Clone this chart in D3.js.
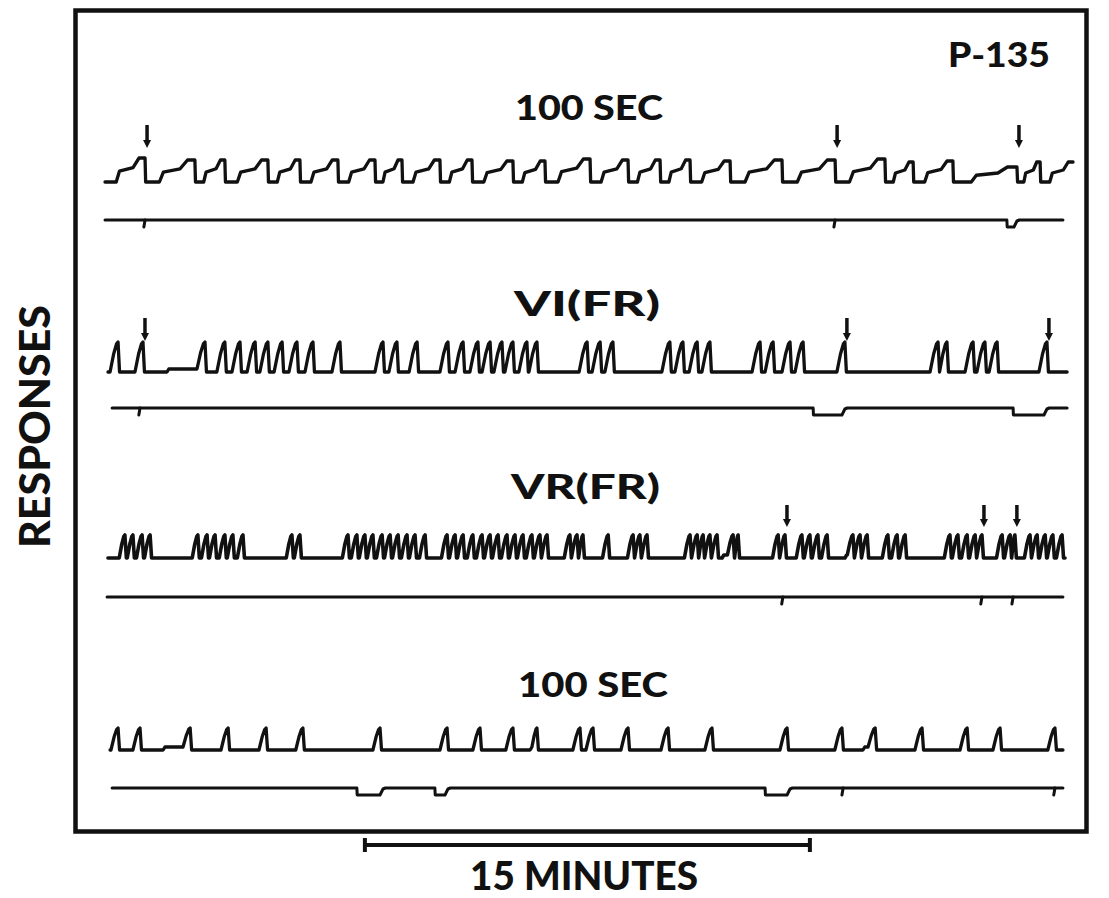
<!DOCTYPE html>
<html>
<head>
<meta charset="utf-8">
<script src="https://cdn.jsdelivr.net/npm/d3@7"></script>
<style>
body { margin: 0; background: #fff; }
text { font-family: Lato, "Open Sans", sans-serif; font-weight: 900; fill: #111; }
</style>
</head>
<body>
<script>
// all times are minutes from the start of the record
// record 1: 100 SEC (pen resets)
var rec1Resets = [1.35, 3.03, 4.04, 5.49, 6.57, 7.85, 9.10, 10.01, 11.29, 12.37, 13.75, 14.83,
                  16.35, 17.63, 18.71, 19.72, 21.07, 22.82, 24.61, 26.29, 27.24, 28.58, 30.74, 31.52];
var rec1Heights = [24, 22, 22, 22, 22, 22, 22, 22, 22, 22, 21, 21,
                   23, 22, 22, 22, 21, 22, 22, 23, 20, 21, 15, 20];
var rec1End = [32.63, 20];
var rec1Arrows = [1.35, 24.61, 30.74];
var rec1Ticks = [1.35, 24.61];
var rec1Dips = [[30.40, 30.74]];

// record 2: VI(FR)
var rec2Peaks = [0.44, 1.28, 3.37, 4.04, 4.55, 5.06, 5.49, 5.97, 6.47, 7.01, 7.92,
                 9.37, 9.84, 10.52, 11.56, 12.07, 12.57, 12.98, 13.38, 13.75, 14.22, 14.56,
                 16.25, 16.69, 17.12, 19.04, 19.48, 19.96, 20.39, 22.08, 22.52, 23.09, 23.53,
                 24.94, 28.08, 28.38, 29.26, 29.66, 30.07, 31.75];
var rec2Steps = [2.09];
var rec2End = 32.43;
var rec2Arrows = [1.28, 24.94, 31.75];
var rec2Ticks = [1.18];
var rec2Dips = [[23.87, 24.94], [30.61, 31.75]];

// record 3: VR(FR)
var rec3Peaks = [0.67, 0.94, 1.25, 1.52, 3.13, 3.44, 3.71, 4.04, 4.31, 4.65, 6.30, 6.57,
                 8.19, 8.49, 8.76, 9.03, 9.34, 9.61, 9.88, 10.18, 10.45, 10.79,
                 11.53, 11.80, 12.07, 12.40, 12.71, 12.98, 13.25, 13.55, 13.82, 14.09, 14.39, 14.66, 14.90,
                 15.67, 15.91, 16.11, 16.96, 17.80, 18.03, 18.27,
                 19.72, 19.96, 20.16, 20.39, 20.63, 21.17, 21.34, 22.69, 22.92,
                 23.49, 23.76, 24.03, 24.34, 25.21, 25.45, 25.69, 26.39, 26.70, 26.97,
                 28.48, 28.75, 29.06, 29.33, 29.56, 30.24, 30.51, 30.67,
                 31.18, 31.42, 31.69, 31.95, 32.26];
var rec3Steps = [20.80, 24.94];
var rec3End = 32.36;
var rec3Arrows = [22.92, 29.56, 30.67];
var rec3Ticks = [22.85, 29.56, 30.61];
var rec3Dips = [];

// record 4: 100 SEC
var rec4Peaks = [0.44, 1.18, 2.87, 4.15, 5.43, 6.67, 9.27, 11.53, 12.64, 13.75, 14.56,
                 16.01, 16.45, 17.63, 18.98, 20.46, 22.99, 24.84, 25.96, 27.54, 29.06, 30.17, 32.02];
var rec4Steps = [1.96, 14.33, 25.55];
var rec4End = 32.29;
var rec4Ticks = [24.88, 32.02];
var rec4Dips = [[8.49, 9.37], [11.12, 11.56], [22.25, 23.09]];

var titles = ["100 SEC", "VI(FR)", "VR(FR)", "100 SEC"];
var scaleBar = [8.76, 23.76]; // 15 minutes

var width = 1109, height = 898;
var svg = d3.select("body").append("svg").attr("width", width).attr("height", height);

var x = d3.scaleLinear().domain([0, 33]).range([105, 105 + 33 * 29.667]);
var line = d3.line();

// frame
svg.append("rect").attr("x", 75.5).attr("y", 10.5).attr("width", 1011).attr("height", 821)
  .attr("fill", "none").attr("stroke", "#111").attr("stroke-width", 4.5);

function yScale(base) {
  return d3.scaleLinear().domain([0, 30]).range([base, base - 30]);
}

function drawPath(pts, y, sw) {
  svg.append("path")
    .attr("d", line(pts.map(function(p) { return [x(p[0]), y(p[1])]; })))
    .attr("fill", "none").attr("stroke", "#111").attr("stroke-width", sw || 3.3)
    .attr("stroke-linejoin", "round").attr("stroke-linecap", "round");
}

// cumulative record with fixed-ratio runs (rise then reset)
function runPoints(peaks, steps, h, rise, start, end) {
  var ev = peaks.map(function(t) { return {t: t, k: "p"}; })
    .concat(steps.map(function(t) { return {t: t, k: "s"}; }))
    .sort(function(a, b) { return a.t - b.t; });
  var pts = [[start, 0]], cur = start, lvl = 0;
  ev.forEach(function(e) {
    if (e.k === "s") {
      pts.push([e.t, lvl]); lvl += 3; pts.push([e.t + 0.06, lvl]); cur = e.t + 0.06;
    } else {
      var s = Math.max(cur, e.t - rise), r = e.t - s;
      pts.push([s, lvl]);
      pts.push([s + r * 0.45, lvl + (h - lvl) * 0.6]);
      pts.push([s + r * 0.8, lvl + (h - lvl) * 0.93]);
      pts.push([e.t, h]);
      pts.push([e.t + 0.05, 0]);
      lvl = 0; cur = e.t + 0.05;
    }
  });
  pts.push([end, lvl]);
  return pts;
}

// scalloped record for the fixed-interval schedule
var scallop = [[0.28, 0], [0.36, 0.45], [0.7, 0.6], [0.85, 1], [1, 1]];
function intervalPoints(resets, heights, end) {
  var pts = [[0, 0]], prev = 0;
  resets.concat([end[0]]).forEach(function(t, i) {
    var h = i < resets.length ? heights[i] : end[1];
    scallop.forEach(function(f) { pts.push([prev + (t - prev) * f[0], h * f[1]]); });
    if (i < resets.length) pts.push([t + 0.02, 0]);
    prev = t + 0.02;
  });
  return pts;
}

function eventPen(base, start, end, ticks, dips) {
  var y = d3.scaleLinear().domain([0, 8]).range([base, base + 8]);
  var pts = [[start, 0]];
  dips.forEach(function(d) {
    pts.push([d[0], 0], [d[0] + 0.01, 7], [d[1] - 0.1, 7], [d[1], 1], [d[1] + 0.08, 0]);
  });
  pts.push([end, 0]);
  drawPath(pts, y, 3);
  ticks.forEach(function(t) {
    drawPath([[t, 0], [t - 0.04, 7]], y, 3);
  });
}

function arrows(list, top, bottom) {
  list.forEach(function(t) {
    var cx = x(t) + 2;
    svg.append("line").attr("x1", cx).attr("x2", cx).attr("y1", top).attr("y2", bottom - 6)
      .attr("stroke", "#111").attr("stroke-width", 3.5);
    svg.append("path")
      .attr("d", "M" + (cx - 4) + "," + (bottom - 8) + "L" + (cx + 4) + "," + (bottom - 8) + "L" + cx + "," + bottom + "Z")
      .attr("fill", "#111");
  });
}

// record 1
drawPath(intervalPoints(rec1Resets, rec1Heights, rec1End), yScale(182));
eventPen(220, 0, 32.29, rec1Ticks, rec1Dips);
arrows(rec1Arrows, 125, 148);

// record 2
drawPath(runPoints(rec2Peaks, rec2Steps, 30, 0.27, 0.1, rec2End), yScale(372));
eventPen(408, 0.24, 32.43, rec2Ticks, rec2Dips);
arrows(rec2Arrows, 318, 341);

// record 3
drawPath(runPoints(rec3Peaks, rec3Steps, 23, 0.19, 0.1, rec3End), yScale(558), 3.6);
eventPen(597, 0.07, 32.29, rec3Ticks, rec3Dips);
arrows(rec3Arrows, 505, 527);

// record 4
drawPath(runPoints(rec4Peaks, rec4Steps, 22, 0.24, 0.17, rec4End), yScale(750));
eventPen(788, 0.24, 32.29, rec4Ticks, rec4Dips);

// labels
var titlePos = [[515, 120, 148], [514, 316, 146], [511, 499, 149], [518, 697, 150]];
titles.forEach(function(s, i) {
  svg.append("text").attr("x", titlePos[i][0]).attr("y", titlePos[i][1])
    .attr("font-size", 35).attr("textLength", titlePos[i][2]).attr("lengthAdjust", "spacingAndGlyphs")
    .text(s);
});
svg.append("text").attr("x", 948).attr("y", 67).attr("font-size", 34)
  .attr("textLength", 102).attr("lengthAdjust", "spacingAndGlyphs").text("P-135");

svg.append("text").attr("transform", "translate(50,548) rotate(-90)")
  .attr("font-size", 42).attr("textLength", 243).attr("lengthAdjust", "spacingAndGlyphs")
  .text("RESPONSES");

// 15 minute scale bar
svg.append("line").attr("x1", x(scaleBar[0])).attr("x2", x(scaleBar[1])).attr("y1", 845).attr("y2", 845)
  .attr("stroke", "#111").attr("stroke-width", 4);
scaleBar.forEach(function(t) {
  svg.append("line").attr("x1", x(t)).attr("x2", x(t)).attr("y1", 838).attr("y2", 852)
    .attr("stroke", "#111").attr("stroke-width", 4);
});
svg.append("text").attr("x", 470).attr("y", 890).attr("font-size", 39)
  .attr("textLength", 228).attr("lengthAdjust", "spacingAndGlyphs").text("15 MINUTES");
</script>
</body>
</html>
